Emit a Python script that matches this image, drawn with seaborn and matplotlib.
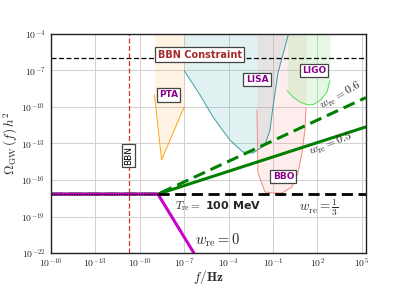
import matplotlib
matplotlib.use("Agg")
import matplotlib.pyplot as plt
import numpy as np
import pandas as pd
import seaborn as sns

sns.set_style("whitegrid")
plt.rcParams["mathtext.fontset"] = "cm"
plt.rcParams["font.family"] = ["DejaVu Sans"]

# ---------- data ----------
X_MIN, X_MAX = 1e-16, 1.9e5
Y_MIN, Y_MAX = 1e-22, 1e-4
F_RE = 1.7e-9          # turning point (T_re = 100 MeV)
OMEGA_FLAT = 7e-18     # radiation-era plateau
BBN_OMEGA = 1.1e-6     # BBN constraint
BBN_F = 1.8e-11        # BBN frequency

pta_f = [1e-9, 3e-9, 1e-7]
pta_om = [1e-9, 4.5e-15, 1e-10]

lisa_f = [1e-7, 10**-5.93, 10**-5.05, 10**-3.91, 10**-3.03, 10**-2.35,
          10**-1.54, 10**-1.20, 10**-1.0, 10**-0.66, 10**0.05]
lisa_om = [1e-7, 10**-9.01, 10**-10.82, 10**-12.71, 10**-13.70, 10**-13.78,
           10**-13.12, 10**-11.89, 10**-10.0, 10**-7.2, 1e-4]

bbo_f = [10**-2.08, 10**-2.01, 10**-1.54, 10**-1.0, 10**-0.39, 10**0.28,
         10**0.69, 10**0.96, 10**1.16, 10**1.23]
bbo_om = [10**-10.25, 10**-15.42, 10**-16.98, 10**-17.06, 10**-17.06,
          10**-16.57, 10**-15.42, 10**-13.78, 10**-11.89, 10**-10.08]

ligo_f = [10**-0.03, 10**0.35, 10**0.82, 10**1.30, 10**1.70, 10**2.18,
          10**2.65, 10**2.85]
ligo_om = [10**-8.66, 10**-9.18, 10**-9.59, 10**-9.81, 10**-9.81,
           10**-9.48, 10**-8.77, 10**-7.84]

# reheating lines: plateau start, turning point, end
w05_f = [X_MIN, F_RE, X_MAX]
w05_om = [OMEGA_FLAT, OMEGA_FLAT, 2.3e-12]
w06_f = [X_MIN, F_RE, X_MAX]
w06_om = [OMEGA_FLAT, OMEGA_FLAT, 5.9e-10]
w0_f = [X_MIN, F_RE, 4.6e-7]
w0_om = [OMEGA_FLAT, OMEGA_FLAT, 1e-22]
w13_f = [F_RE, X_MAX]
w13_om = [OMEGA_FLAT, OMEGA_FLAT]

x_exps = [-16, -13, -10, -7, -4, -1, 2, 5]
y_exps = [-22, -19, -16, -13, -10, -7, -4]

fig = plt.figure(figsize=(4.07, 2.85), dpi=100)
ax = fig.add_axes([0.125, 0.112, 0.774, 0.769])
ax.set_xscale("log")
ax.set_yscale("log")

# ---------- detector regions ----------
regions = [
    (pta_f, pta_om, "#ffa31a", "#ffa31a", 0.12),
    (lisa_f, lisa_om, "#3a9ea5", "#5fb3b3", 0.18),
    (bbo_f, bbo_om, "#f08c80", "#f4a09a", 0.18),
    (ligo_f, ligo_om, "#55e055", "#7de07d", 0.2),
]
for fx, om, lc, fc, a in regions:
    ax.fill_between(fx, om, 1.0, color=fc, alpha=a, lw=0)
    sns.lineplot(x=fx, y=om, ax=ax, color=lc, lw=0.7, sort=False, estimator=None)

# ---------- constraints ----------
ax.axhline(BBN_OMEGA, color="black", ls=(0, (4, 2)), lw=0.9)
ax.axvline(BBN_F, color="#cc3333", ls=(0, (4, 2)), lw=0.9)

# ---------- reheating spectra ----------
sns.lineplot(x=w06_f, y=w06_om, ax=ax, color="green", lw=2.2,
             ls=(0, (4, 2)), sort=False, estimator=None)
sns.lineplot(x=w05_f, y=w05_om, ax=ax, color="green", lw=2.2,
             sort=False, estimator=None)
sns.lineplot(x=w0_f, y=w0_om, ax=ax, color="#cc00cc", lw=2.2,
             sort=False, estimator=None)
sns.lineplot(x=[X_MIN, F_RE], y=[OMEGA_FLAT, OMEGA_FLAT], ax=ax,
             color="black", lw=0.9, ls=(0, (1, 1)), sort=False, estimator=None)
sns.lineplot(x=w13_f, y=w13_om, ax=ax, color="black", lw=2.0,
             ls=(0, (4, 2)), sort=False, estimator=None)

# ---------- labels ----------
box = dict(boxstyle="square,pad=0.25", fc="white", ec="#444444", lw=0.9)
ax.text(1.1e-6, 1.9e-6, "BBN Constraint", color="#a52a2a", fontsize=7,
        fontweight="bold", ha="center", va="center", bbox=box)
ax.text(8.7e-9, 1e-9, "PTA", color="#8b008b", fontsize=6.5,
        fontweight="bold", ha="center", va="center", bbox=box)
ax.text(8.3e-3, 1.8e-8, "LISA", color="#8b008b", fontsize=6.5,
        fontweight="bold", ha="center", va="center", bbox=box)
ax.text(59, 1e-7, "LIGO", color="#8b008b", fontsize=6.5,
        fontweight="bold", ha="center", va="center", bbox=box)
ax.text(0.51, 1.9e-16, "BBO", color="#8b008b", fontsize=6.5,
        fontweight="bold", ha="center", va="center", bbox=box)
ax.text(BBN_F, 1e-14, "BBN", color="black", fontsize=6.5, rotation=90,
        ha="center", va="center", bbox=box)

ax.text(2.4e-8, 7.8e-19, r"$T_{\rm re}=$" + " 100 MeV", fontsize=8,
        fontweight="bold", ha="left", va="center")
ax.text(5.7, 5e-19, r"$w_{\rm re}=\frac{1}{3}$", fontsize=9.5,
        ha="left", va="center")
ax.text(5.4e-7, 1.2e-21, r"$w_{\rm re}=0$", fontsize=10.5,
        ha="left", va="center")
ax.text(3.9e3, 8e-10, r"$w_{\rm re}=0.6$", fontsize=8.5, rotation=29,
        ha="center", va="center")
ax.text(830, 9e-14, r"$w_{\rm re}=0.5$", fontsize=8.5, rotation=21,
        ha="center", va="center")

# ---------- axes ----------
ax.set_xlim(X_MIN, X_MAX)
ax.set_ylim(Y_MIN, Y_MAX)
ax.set_xticks([10.0**e for e in x_exps])
ax.set_xticklabels([rf"$10^{{{e}}}$" for e in x_exps])
ax.set_yticks([10.0**e for e in y_exps])
ax.set_yticklabels([rf"$10^{{{e}}}$" for e in y_exps])
ax.minorticks_off()
ax.tick_params(labelsize=7, length=0)
ax.tick_params(axis="x", pad=2.5)
ax.tick_params(axis="y", pad=4)
ax.grid(True, color="#d0d0d0", lw=0.7)
for s in ax.spines.values():
    s.set_color("#222222")
    s.set_linewidth(1.0)
ax.set_xlabel(r"$f/\mathbf{Hz}$", fontsize=9.5)
ax.xaxis.set_label_coords(0.5, -0.066)
ax.set_ylabel(r"$\Omega_{\rm GW}\,(f)\,h^2$", fontsize=9.5, labelpad=1)

fig.savefig("out.png", dpi=100)
